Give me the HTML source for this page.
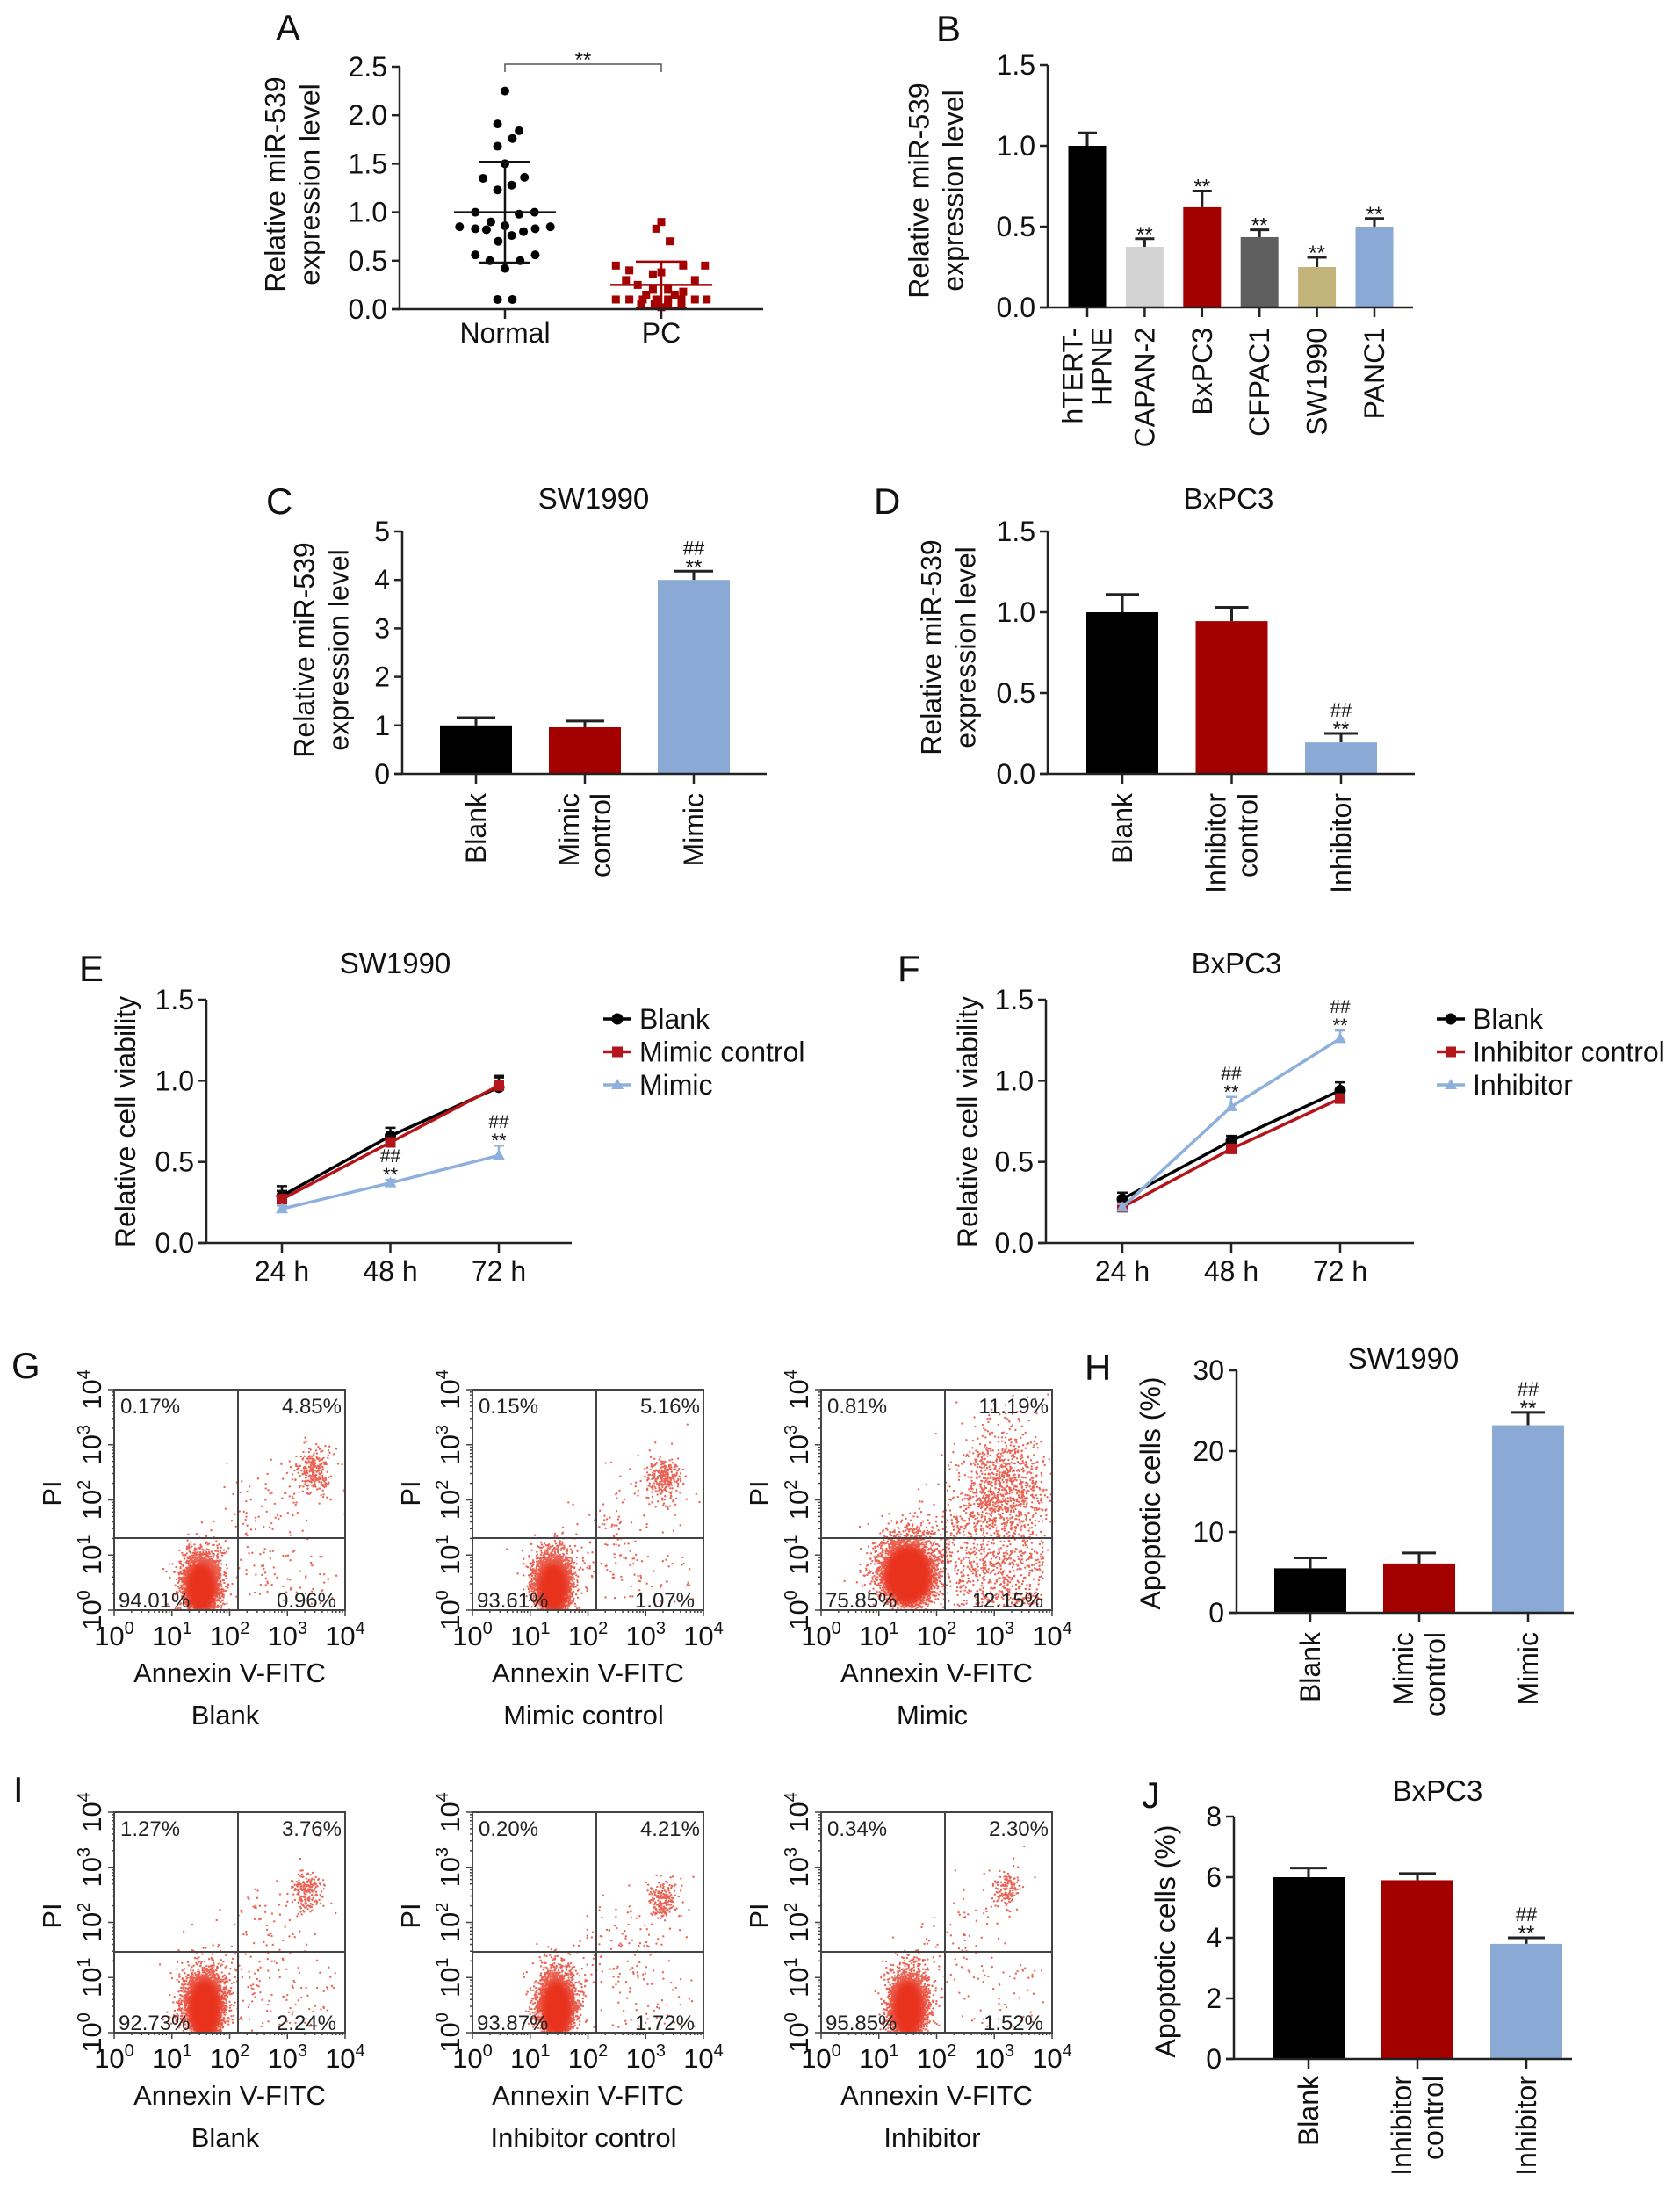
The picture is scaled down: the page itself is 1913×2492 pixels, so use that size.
<!DOCTYPE html>
<html><head><meta charset="utf-8"><style>
html,body{margin:0;padding:0;background:#fff;}
svg{display:block;font-family:"Liberation Sans",Arial,sans-serif;}
</style></head>
<body>
<svg id="figure" xmlns="http://www.w3.org/2000/svg" width="1913" height="2492" viewBox="0 0 1913 2492">
<defs><filter id="blur" x="-50%" y="-50%" width="200%" height="200%"><feGaussianBlur stdDeviation="4"/></filter></defs>
<rect x="0" y="0" width="1913" height="2492" fill="#fff"/>
</svg>
<script>
// ---------- DATA ----------
const panelANormal=[2.25,1.91,1.84,1.76,1.68,1.5,1.35,1.36,1.28,1.23,1.0,1.0,0.98,0.9,0.86,0.85,0.85,0.83,0.83,0.82,0.8,0.76,0.7,0.56,0.56,0.5,0.5,0.42,0.1,0.1];
const panelAPC=[0.9,0.83,0.7,0.45,0.45,0.45,0.4,0.38,0.36,0.3,0.3,0.25,0.2,0.2,0.18,0.1,0.1,0.1,0.1,0.1,0.1,0.1,0.1,0.05,0.05,0.05,0.05,0.02,0.15,0.15];
const panelAMeans=[1.0,0.25];
const panelASD=[0.52,0.24];
const panelACategories=['Normal','PC'];
const panelATicks=[0,0.5,1.0,1.5,2.0,2.5];

const panelBCategories=[['hTERT-','HPNE'],['CAPAN-2'],['BxPC3'],['CFPAC1'],['SW1990'],['PANC1']];
const panelBValues=[1.0,0.375,0.62,0.435,0.25,0.50];
const panelBErrors=[0.08,0.05,0.10,0.045,0.06,0.05];
const panelBStars=['','**','**','**','**','**'];
const panelBHash=['','','','','',''];
const panelBTicks=[0,0.5,1.0,1.5];

const panelCCategories=[['Blank'],['Mimic','control'],['Mimic']];
const panelCValues=[1.0,0.96,4.0];
const panelCErrors=[0.16,0.13,0.18];
const panelCStars=['','','**'];
const panelCHash=['','','##'];
const panelCTicks=[0,1,2,3,4,5];

const panelDCategories=[['Blank'],['Inhibitor','control'],['Inhibitor']];
const panelDValues=[1.0,0.945,0.195];
const panelDErrors=[0.11,0.085,0.055];
const panelDStars=['','','**'];
const panelDHash=['','','##'];
const panelDTicks=[0,0.5,1.0,1.5];

const timeCategories=['24 h','48 h','72 h'];
const viabTicks=[0,0.5,1.0,1.5];
const panelEBlank=[0.29,0.66,0.96];
const panelEBlankErr=[0.06,0.05,0.07];
const panelEControl=[0.27,0.62,0.97];
const panelEControlErr=[0.05,0.04,0.05];
const panelEMimic=[0.21,0.37,0.54];
const panelEMimicErr=[0.02,0.02,0.06];
const panelEStars=['','**','**'];
const panelEHash=['','##','##'];
const panelFBlank=[0.27,0.63,0.94];
const panelFBlankErr=[0.04,0.03,0.05];
const panelFControl=[0.22,0.58,0.89];
const panelFControlErr=[0.02,0.03,0.03];
const panelFInhibitor=[0.22,0.84,1.26];
const panelFInhibitorErr=[0.02,0.06,0.05];
const panelFStars=['','**','**'];
const panelFHash=['','##','##'];

const panelHCategories=[['Blank'],['Mimic','control'],['Mimic']];
const panelHValues=[5.5,6.1,23.2];
const panelHErrors=[1.3,1.3,1.6];
const panelHStars=['','','**'];
const panelHHash=['','','##'];
const panelHTicks=[0,10,20,30];

const panelJCategories=[['Blank'],['Inhibitor','control'],['Inhibitor']];
const panelJValues=[6.0,5.9,3.8];
const panelJErrors=[0.3,0.22,0.2];
const panelJStars=['','','**'];
const panelJHash=['','','##'];
const panelJTicks=[0,2,4,6,8];

const flowGPercents=[['0.17%','4.85%','94.01%','0.96%'],['0.15%','5.16%','93.61%','1.07%'],['0.81%','11.19%','75.85%','12.15%']];
const flowGCaptions=['Blank','Mimic control','Mimic'];
const flowIPercents=[['1.27%','3.76%','92.73%','2.24%'],['0.20%','4.21%','93.87%','1.72%'],['0.34%','2.30%','95.85%','1.52%']];
const flowICaptions=['Blank','Inhibitor control','Inhibitor'];

// ---------- HELPERS ----------
const NS='http://www.w3.org/2000/svg';
const svg=document.getElementById('figure');
const INK='#222';
function mk(tag,attrs,parent){const e=document.createElementNS(NS,tag);for(const k in attrs)e.setAttribute(k,attrs[k]);(parent||svg).appendChild(e);return e;}
function txt(str,attrs,parent){const e=mk('text',attrs,parent);e.textContent=str;return e;}

function panelLetter(ch,x,y){
  const t=txt(ch,{x:x,y:y,'font-size':42,fill:'#111'});
  
  
}
function yTitle(lines,cx,cy,gap,parent){
  lines.forEach((s,i)=>{
    const x=cx+(i-(lines.length-1)/2)*gap+11;
    const t=txt(s,{transform:'translate('+x+','+cy+') rotate(-90)','text-anchor':'middle','font-size':32,fill:'#111'},parent);
    
    
  });
}
function yAxis(ax,y0,yTop,vmax,ticks,fmt,parent){
  const l=mk('line',{x1:ax,y1:y0,x2:ax,y2:yTop,stroke:INK,'stroke-width':2.5},parent);
  
  
  ticks.forEach(v=>{
    const y=y0-(v/vmax)*(y0-yTop);
    const tk=mk('line',{x1:ax-9,y1:y,x2:ax,y2:y,stroke:INK,'stroke-width':2.5},parent);
    
    
    const t=txt(fmt(v),{x:ax-14,y:y+11,'text-anchor':'end','font-size':32,fill:'#111'},parent);
    
    
  });
}
function rotLabels(cats,xs,topY,gap,parent){
  cats.forEach((lines,i)=>{
    lines.forEach((s,j)=>{
      const x=xs(i)+(j-(lines.length-1)/2)*gap+11;
      const t=txt(s,{transform:'translate('+x+','+topY+') rotate(-90)','text-anchor':'end','font-size':32,fill:'#111'},parent);
      
      
    });
  });
}

function barPanel(p){
  const g=mk('g',{});
  
  
  const ys=v=>p.y0-(v/p.vmax)*(p.y0-p.yTop);
  const xs=i=>p.start+(i+0.5)*p.step;
  p.vals.forEach((v,i)=>{
    const top=ys(v), et=ys(v+p.errs[i]);
    const ev=mk('line',{x1:xs(i),y1:top,x2:xs(i),y2:et,stroke:INK,'stroke-width':3},g);
    
    
    const ec=mk('line',{x1:xs(i)-p.cap/2,y1:et,x2:xs(i)+p.cap/2,y2:et,stroke:INK,'stroke-width':3},g);
    
    
    const b=mk('rect',{x:xs(i)-p.bw/2,y:top,width:p.bw,height:p.y0-top,fill:p.colors[i]},g);
    
    
    if(p.stars[i]){
      const s=txt(p.stars[i],{x:xs(i),y:et+3,'text-anchor':'middle','font-size':24,fill:'#111'},g);
      
      
    }
    if(p.hash[i]){
      const h=txt(p.hash[i],{x:xs(i),y:et-19,'text-anchor':'middle','font-size':22,fill:'#111'},g);
      
      
    }
    const tk=mk('line',{x1:xs(i),y1:p.y0,x2:xs(i),y2:p.y0+11,stroke:INK,'stroke-width':2.5},g);
    
    
  });
  yAxis(p.ax,p.y0,p.yTop,p.vmax,p.ticks,p.fmt,g);
  const xa=mk('line',{x1:p.ax-9,y1:p.y0,x2:p.xEnd,y2:p.y0,stroke:INK,'stroke-width':2.5},g);
  
  
  rotLabels(p.cats,xs,p.labTop,p.labGap,g);
  yTitle(p.ytitle,p.ytx,p.yty,39,g);
  if(p.title){
    const t=txt(p.title,{x:p.titleX,y:p.titleY,'text-anchor':'middle','font-size':33,fill:'#111'},g);
    
    
  }
}
const f1=v=>v.toFixed(1), f0=v=>String(v);
const BLK='#000', RED='#a30000', BLU='#8aaad5';

// ---------- PANEL A ----------
(function(){
  const g=mk('g',{});
  
  
  const ax=455,y0=352,yTop=76,vmax=2.5;
  const ys=v=>y0-(v/vmax)*(y0-yTop);
  const cx=[575,753];
  const normalJitter=[0,-22,42,22,-22,0,-65,58,20,-22,-88,88,42,-42,0,-135,135,-88,90,-55,55,20,-20,-88,90,-45,45,0,-22,22];
  const pcJitter=[0,-15,25,-135,65,130,-95,0,-25,-105,100,-70,-25,20,65,-135,-95,-55,-15,20,60,100,135,-60,-20,20,60,0,-45,40];
  panelANormal.forEach((v,i)=>{
    const c=mk('circle',{cx:cx[0]+normalJitter[i]*0.383,cy:ys(v),r:5,fill:'#000'},g);
    
    
  });
  panelAPC.forEach((v,i)=>{
    const r=mk('rect',{x:cx[1]+pcJitter[i]*0.383-4.5,y:ys(v)-4.5,width:9,height:9,fill:RED},g);
    
    
  });
  panelAMeans.forEach((m,i)=>{
    const ml=mk('line',{x1:cx[i]-58,y1:ys(m),x2:cx[i]+58,y2:ys(m),stroke:i?RED:'#111','stroke-width':2.5},g);
    
    
    const sd=mk('path',{d:'M'+cx[i]+' '+ys(Math.max(0,m-panelASD[i]))+'V'+ys(m+panelASD[i])+'M'+(cx[i]-29)+' '+ys(m+panelASD[i])+'h58M'+(cx[i]-29)+' '+ys(Math.max(0,m-panelASD[i]))+'h58',stroke:i?RED:'#111','stroke-width':2.5,fill:'none'},g);
    
    
    const tk=mk('line',{x1:cx[i],y1:y0,x2:cx[i],y2:y0+11,stroke:INK,'stroke-width':2.5},g);
    
    
    const t=txt(panelACategories[i],{x:cx[i],y:390,'text-anchor':'middle','font-size':32,fill:'#111'},g);
    
    
  });
  yAxis(ax,y0,yTop,vmax,panelATicks,f1,g);
  const xa=mk('line',{x1:ax-9,y1:y0,x2:869,y2:y0,stroke:INK,'stroke-width':2.5},g);
  
  
  const br=mk('path',{d:'M575 82V73H753V82',stroke:'#555','stroke-width':1.5,fill:'none'},g);
  
  
  const st=txt('**',{x:664,y:76,'text-anchor':'middle','font-size':24,fill:'#111'},g);
  
  
  yTitle(['Relative miR-539','expression level'],333,210,39,g);
})();
panelLetter('A',314,46);

// ---------- PANEL B ----------
barPanel({name:'panel-b-bar-chart',ax:1193,y0:350,yTop:74,vmax:1.5,ticks:panelBTicks,fmt:f1,
  vals:panelBValues,errs:panelBErrors,stars:panelBStars,hash:panelBHash,cats:panelBCategories,
  colors:['#000','#d3d3d3','#a30000','#5f5f5f','#c3b47c','#8aaad5'],
  start:1205.3,step:65.4,bw:43,cap:22,xEnd:1609,labTop:373,labGap:33,
  ytitle:['Relative miR-539','expression level'],ytx:1066,yty:217});
panelLetter('B',1066,47);

// ---------- PANEL C ----------
barPanel({name:'panel-c-bar-chart',ax:458,y0:881,yTop:605,vmax:5,ticks:panelCTicks,fmt:f0,
  vals:panelCValues,errs:panelCErrors,stars:panelCStars,hash:panelCHash,cats:panelCCategories,
  colors:[BLK,RED,BLU],start:480,step:124,bw:82,cap:44,xEnd:873,labTop:903,labGap:36,
  ytitle:['Relative miR-539','expression level'],ytx:366,yty:740,title:'SW1990',titleX:676,titleY:579});
panelLetter('C',303,585);

// ---------- PANEL D ----------
barPanel({name:'panel-d-bar-chart',ax:1193,y0:881,yTop:605,vmax:1.5,ticks:panelDTicks,fmt:f1,
  vals:panelDValues,errs:panelDErrors,stars:panelDStars,hash:panelDHash,cats:panelDCategories,
  colors:[BLK,RED,BLU],start:1215.75,step:124.5,bw:82,cap:38,xEnd:1611,labTop:903,labGap:36,
  ytitle:['Relative miR-539','expression level'],ytx:1080,yty:737,title:'BxPC3',titleX:1399,titleY:579});
panelLetter('D',995,585);

// ---------- LINE PANELS E/F ----------
function marker(type,x,y,color,parent){
  let e;
  if(type==='circle') e=mk('circle',{cx:x,cy:y,r:6.5,fill:color},parent);
  else if(type==='square') e=mk('rect',{x:x-6,y:y-6,width:12,height:12,fill:color},parent);
  else e=mk('path',{d:'M'+x+' '+(y-7)+'L'+(x+7)+' '+(y+5)+'L'+(x-7)+' '+(y+5)+'Z',fill:color},parent);
  return e;
}
function linePanel(p){
  const g=mk('g',{});
  
  
  const y0=1415,yTop=1138,vmax=1.5;
  const ys=v=>y0-(v/vmax)*(y0-yTop);
  const xs=i=>p.x0+i*p.step;
  yAxis(p.ax,y0,yTop,vmax,viabTicks,f1,g);
  const xa=mk('line',{x1:p.ax-9,y1:y0,x2:p.xEnd,y2:y0,stroke:INK,'stroke-width':2.5},g);
  
  
  timeCategories.forEach((c,i)=>{
    const tk=mk('line',{x1:xs(i),y1:y0,x2:xs(i),y2:y0+11,stroke:INK,'stroke-width':2.5},g);
    
    
    const t=txt(c,{x:xs(i),y:1458,'text-anchor':'middle','font-size':32,fill:'#111'},g);
    
    
  });
  p.series.forEach((s,k)=>{
    const d=s.vals.map((v,i)=>(i?'L':'M')+xs(i)+' '+ys(v)).join('');
    const ln=mk('path',{d:d,stroke:s.color,'stroke-width':3.5,fill:'none'},g);
    
    
    s.vals.forEach((v,i)=>{
      const eb=mk('path',{d:'M'+xs(i)+' '+ys(v)+'V'+ys(v+s.errs[i])+'M'+(xs(i)-6)+' '+ys(v+s.errs[i])+'h12',stroke:k===2?s.color:'#111','stroke-width':2.5,fill:'none'},g);
      
      
      const m=marker(s.marker,xs(i),ys(v),s.color,g);
      
      
    });
  });
  const hi=p.series[2];
  hi.vals.forEach((v,i)=>{
    const et=ys(v+hi.errs[i]);
    if(p.stars[i]){
      const s=txt(p.stars[i],{x:xs(i),y:et+2,'text-anchor':'middle','font-size':22,fill:'#111'},g);
      
      
    }
    if(p.hash[i]){
      const h=txt(p.hash[i],{x:xs(i),y:et-20,'text-anchor':'middle','font-size':21,fill:'#111'},g);
      
      
    }
  });
  p.series.forEach((s,k)=>{
    const ly=1160+k*37.5;
    const ll=mk('line',{x1:p.legX-16,y1:ly,x2:p.legX+16,y2:ly,stroke:s.color,'stroke-width':3.5},g);
    
    
    const lm=marker(s.marker,p.legX,ly,s.color,g);
    
    
    const lt=txt(s.label,{x:p.legX+25,y:ly+11,'font-size':32,fill:'#111'},g);
    
    
  });
  yTitle(['Relative cell viability'],p.ytx,1277,39,g);
  const t=txt(p.title,{x:p.titleX,y:1108,'text-anchor':'middle','font-size':33,fill:'#111'},g);
  
  
}
linePanel({name:'panel-e-line-chart',ax:235,x0:321,step:123.5,xEnd:651,legX:703,ytx:143,title:'SW1990',titleX:450,
  stars:panelEStars,hash:panelEHash,
  series:[{label:'Blank',vals:panelEBlank,errs:panelEBlankErr,color:'#000',marker:'circle'},
          {label:'Mimic control',vals:panelEControl,errs:panelEControlErr,color:'#b3151b',marker:'square'},
          {label:'Mimic',vals:panelEMimic,errs:panelEMimicErr,color:'#8eb0dc',marker:'triangle'}]});
panelLetter('E',90,1117);
linePanel({name:'panel-f-line-chart',ax:1191,x0:1278,step:124,xEnd:1610,legX:1652,ytx:1102,title:'BxPC3',titleX:1408,
  stars:panelFStars,hash:panelFHash,
  series:[{label:'Blank',vals:panelFBlank,errs:panelFBlankErr,color:'#000',marker:'circle'},
          {label:'Inhibitor control',vals:panelFControl,errs:panelFControlErr,color:'#b3151b',marker:'square'},
          {label:'Inhibitor',vals:panelFInhibitor,errs:panelFInhibitorErr,color:'#8eb0dc',marker:'triangle'}]});
panelLetter('F',1022,1117);

// ---------- PANEL H & J ----------
barPanel({name:'panel-h-bar-chart',ax:1408,y0:1836,yTop:1560,vmax:30,ticks:panelHTicks,fmt:f0,
  vals:panelHValues,errs:panelHErrors,stars:panelHStars,hash:panelHHash,cats:panelHCategories,
  colors:[BLK,RED,BLU],start:1430,step:124,bw:82,cap:38,xEnd:1792,labTop:1858,labGap:36,
  ytitle:['Apoptotic cells (%)'],ytx:1310,yty:1700,title:'SW1990',titleX:1598,titleY:1558});
panelLetter('H',1235,1571);
barPanel({name:'panel-j-bar-chart',ax:1405,y0:2344,yTop:2068,vmax:8,ticks:panelJTicks,fmt:f0,
  vals:panelJValues,errs:panelJErrors,stars:panelJStars,hash:panelJHash,cats:panelJCategories,
  colors:[BLK,RED,BLU],start:1428,step:124,bw:82,cap:42,xEnd:1790,labTop:2363,labGap:36,
  ytitle:['Apoptotic cells (%)'],ytx:1327,yty:2210,title:'BxPC3',titleX:1637,titleY:2050});
panelLetter('J',1300,2058);

// ---------- FLOW PLOTS ----------
function rng(seed){return function(){seed|=0;seed=seed+0x6D2B79F5|0;let t=Math.imul(seed^seed>>>15,1|seed);t=t+Math.imul(t^t>>>7,61|t)^t;return((t^t>>>14)>>>0)/4294967296;};}
let clipId=0;
function flowPlot(L,T,vq,hq,perc,caption,cloud,seed){
  const W=263,H=251;
  const g=mk('g',{});
  
  
  const cid='clip'+(clipId++);
  const cp=mk('clipPath',{id:cid},g);
  mk('rect',{x:L,y:T,width:W,height:H},cp);
  const R=rng(seed);
  const gauss=()=>{let u=R()||1e-9,v=R();return Math.sqrt(-2*Math.log(u))*Math.cos(2*Math.PI*v);};
  let d='';
  const add=(x,y)=>{d+='M'+(L+x).toFixed(1)+' '+(T+y).toFixed(1)+'h0.1';};
  for(let i=0;i<cloud.coreN;i++)add(cloud.cx+gauss()*cloud.sx,cloud.cy+gauss()*cloud.sy);
  for(let i=0;i<cloud.urN;i++)add(cloud.ux+gauss()*cloud.usx,cloud.uy+gauss()*cloud.usy);
  for(let i=0;i<cloud.diffN;i++){const t=R();add(cloud.cx+(cloud.ux-cloud.cx)*t+gauss()*25,cloud.cy+(cloud.uy-cloud.cy)*t+gauss()*25);}
  for(let i=0;i<cloud.lrN;i++)add(vq+10+R()*(W-vq-20),hq+15+R()*(H-hq-20));
  const cg=mk('g',{'clip-path':'url(#'+cid+')'},g);
  const dots=mk('path',{d:d,stroke:'#e3301c','stroke-width':2.3,'stroke-linecap':'round','stroke-opacity':0.75,fill:'none'},cg);
  
  
  const core=mk('ellipse',{cx:L+cloud.cx,cy:T+cloud.cy+6,rx:cloud.sx*1.6,ry:cloud.sy*1.7,fill:'#e8311a',filter:'url(#blur)'},cg);
  
  
  const box=mk('rect',{x:L,y:T,width:W,height:H,fill:'none',stroke:'#444','stroke-width':2},g);
  
  
  const q=mk('path',{d:'M'+(L+vq)+' '+T+'V'+(T+H)+'M'+L+' '+(T+hq)+'H'+(L+W),stroke:'#444','stroke-width':2,fill:'none'},g);
  
  
  let tk='';
  const dx=W/4,dy=H/4;
  for(let k=0;k<4;k++)for(let m=1;m<=9;m++){
    const f=Math.log10(m);
    const x=L+(k+f)*dx, y=T+H-(k+f)*dy;
    const len=m===1?7:3;
    tk+='M'+x+' '+(T+H)+'v'+len+'M'+L+' '+y+'h-'+len;
  }
  tk+='M'+(L+W)+' '+(T+H)+'v7M'+L+' '+T+'h-7';
  const tks=mk('path',{d:tk,stroke:'#444','stroke-width':1.5,fill:'none'},g);
  
  
  for(let k=0;k<=4;k++){
    const xt=mk('text',{x:L+k*dx,y:T+H+40,'text-anchor':'middle','font-size':31,fill:'#111'},g);
    xt.innerHTML='10<tspan font-size="20" dy="-13">'+k+'</tspan>';
    
    
    const yt=mk('text',{transform:'translate('+(L-15)+','+(T+H-k*dy)+') rotate(-90)','text-anchor':'middle','font-size':31,fill:'#111'},g);
    yt.innerHTML='10<tspan font-size="20" dy="-13">'+k+'</tspan>';
    
    
  }
  const pl=txt('PI',{transform:'translate('+(L-60)+','+(T+118)+') rotate(-90)','text-anchor':'middle','font-size':31,fill:'#111'},g);
  
  
  const xl=txt('Annexin V-FITC',{x:L+W/2,y:T+H+82,'text-anchor':'middle','font-size':31,fill:'#111'},g);
  
  
  const cap=txt(caption,{x:L+W/2-5,y:T+H+130,'text-anchor':'middle','font-size':31,fill:'#111'},g);
  
  
  const pos=[[L+7,T+27,'start'],[L+W-4,T+27,'end'],[L+5,T+H-3,'start'],[L+W-10,T+H-3,'end']];
  perc.forEach((s,i)=>{
    const pt=txt(s,{x:pos[i][0],y:pos[i][1],'text-anchor':pos[i][2],'font-size':24,fill:'#222'},g);
    
    
  });
}
const flowLefts=[130,538,935];
const gClouds=[
  {cx:99,cy:220,sx:11,sy:17,coreN:2600,ux:228,uy:92,usx:10,usy:12,urN:260,diffN:160,lrN:50},
  {cx:92,cy:220,sx:11,sy:17,coreN:2600,ux:218,uy:100,usx:9,usy:11,urN:270,diffN:170,lrN:55},
  {cx:99,cy:206,sx:17,sy:20,coreN:3600,ux:207,uy:118,usx:28,usy:40,urN:1100,diffN:300,lrN:420}];
const iClouds=[
  {cx:103,cy:218,sx:12,sy:20,coreN:2800,ux:218,uy:89,usx:8,usy:10,urN:200,diffN:150,lrN:70},
  {cx:96,cy:218,sx:11,sy:19,coreN:2800,ux:218,uy:100,usx:8,usy:10,urN:200,diffN:150,lrN:60},
  {cx:99,cy:218,sx:11,sy:19,coreN:2800,ux:213,uy:88,usx:7,usy:9,urN:130,diffN:110,lrN:50}];
flowGPercents.forEach((p,i)=>flowPlot(flowLefts[i],1582,141,169,p,flowGCaptions[i],gClouds[i],11+i));
flowIPercents.forEach((p,i)=>flowPlot(flowLefts[i],2063,141,159,p,flowICaptions[i],iClouds[i],31+i));
panelLetter('G',13,1569);
panelLetter('I',15,2052);
</script>
</body></html>
